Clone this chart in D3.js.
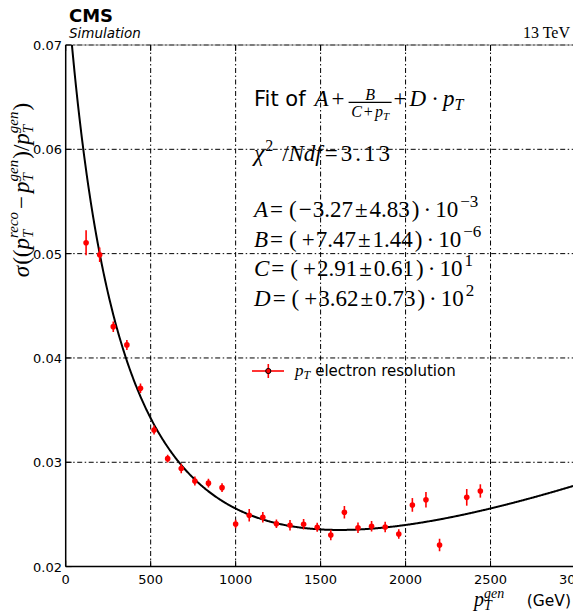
<!DOCTYPE html>
<html><head><meta charset="utf-8">
<script src="https://cdn.jsdelivr.net/npm/d3@7"></script>
<style>body{margin:0;background:#fff} svg{display:block}</style>
</head><body><svg id="c" width="573" height="612"></svg>
<script>
// ---- data ----
const ptGen = [120,200,280,360,440,520,600,680,760,840,920,1000,1080,1160,1240,1320,1400,1480,1560,1640,1720,1800,1880,1960,2040,2120,2200,2360,2440];
const resolution = [0.05105,0.0499,0.0430,0.04125,0.0371,0.0331,0.03035,0.0294,0.0282,0.0280,0.02757,0.02408,0.02492,0.02473,0.02411,0.02396,0.02406,0.02377,0.02303,0.02521,0.02373,0.02386,0.0238,0.02313,0.02591,0.0264,0.02207,0.02664,0.02725];
const resolutionErr = [0.0012,0.0007,0.0005,0.00048,0.00045,0.00043,0.00037,0.00046,0.00043,0.00042,0.00043,0.0004,0.0006,0.0005,0.0004,0.0005,0.0005,0.00043,0.0005,0.0006,0.0005,0.0005,0.0005,0.00045,0.00066,0.00074,0.0006,0.0008,0.00064];
const xTicks = [0,500,1000,1500,2000,2500,3000];
const yTicks = [0.02,0.03,0.04,0.05,0.06,0.07];
const yTickLabels = ["0.02","0.03","0.04","0.05","0.06","0.07"];
const paramNames = ["A","B","C","D"];
const paramMantissa = [-3.27, 7.47, 2.91, 3.62];
const paramErrMantissa = [4.83, 1.44, 0.61, 0.73];
const paramExponent = [-3, -6, 1, 2];
const chi2ndf = "3.13";

const P = paramMantissa.map((m,i)=>m*Math.pow(10,paramExponent[i]));
const fitFn = x => P[0] + P[2]/(P[3]+x) + P[1]*x;

// ---- layout ----
const svg = d3.select("#c");
const L = 65.7, R = 575.5, T = 45, B = 566.6;
const x = d3.scaleLinear().domain([0,3000]).range([L,R]);
const y = d3.scaleLinear().domain([0.02,0.07]).range([B,T]);
const SERIF = "'Liberation Serif', 'DejaVu Serif', serif";
const SANS = "'DejaVu Sans', sans-serif";
const FS = 23;

svg.append("clipPath").attr("id","clip").append("rect")
  .attr("x",L).attr("y",T).attr("width",R-L).attr("height",B-T);

// math layout helper
function mathLine(g, x0, y0, runs) {
  let cx = x0;
  runs.forEach(r => {
    if (r.gap) cx += r.gap;
    if (r.stack) {
      const s = r.s || 14;
      const a = g.append("text").attr("x",cx).attr("y",y0+r.sdy).attr("font-family",SERIF)
        .attr("font-style","italic").attr("font-size",s).text(r.sub);
      const b = g.append("text").attr("x",cx+(r.supdx||0)).attr("y",y0+r.pdy).attr("font-family",SERIF)
        .attr("font-style","italic").attr("font-size",s).text(r.sup);
      cx += Math.max(a.node().getComputedTextLength(), b.node().getComputedTextLength()+(r.supdx||0));
      return;
    }
    if (r.t === undefined) return;
    const el = g.append("text").attr("x",cx).attr("y",y0+(r.dy||0))
      .attr("font-family", r.sans ? SANS : SERIF)
      .attr("font-style", r.it ? "italic" : "normal")
      .attr("font-size", r.s || FS).text(r.t);
    if (r.ls) el.attr("letter-spacing", r.ls);
    cx += el.node().getComputedTextLength();
  });
  return cx;
}

// ---- texts inside plot (below grid) ----
const txt = svg.append("g");
// title formula
let cx = mathLine(txt, 254, 106, [{t:"Fit of", sans:true, s:21}]);
cx = mathLine(txt, cx+9, 106, [{t:"A",it:true},{t:"+",gap:3}]);
{
  const fx = cx + 4, fw = 43;
  txt.append("line").attr("x1",fx).attr("x2",fx+fw).attr("y1",102.3).attr("y2",102.3).attr("stroke","#000").attr("stroke-width",1.2);
  txt.append("text").attr("x",fx+fw/2).attr("y",99.5).attr("text-anchor","middle")
    .attr("font-family",SERIF).attr("font-style","italic").attr("font-size",16).text("B");
  const dg = txt.append("g");
  const w = mathLine(dg, 0, 116.5, [{t:"C",it:true,s:16},{t:"+",s:16,gap:2},{t:"p",it:true,s:16,gap:2},{t:"T",it:true,s:11,dy:3}]);
  dg.attr("transform",`translate(${fx+fw/2-w/2},0)`);
  cx = fx + fw + 2;
}
mathLine(txt, cx, 106, [{t:"+"},{t:"D",it:true,gap:3},{t:"·",gap:5},{t:"p",it:true,gap:4},{t:"T",it:true,s:16,dy:4}]);

// chi2
mathLine(txt, 254, 160.5, [{t:"χ",it:true},{t:"2",s:16,dy:-10,gap:1},{t:"/",gap:9},{t:"N",it:true,gap:0},{t:"d",it:true},{t:"f",it:true},{t:"=",gap:3},{t:chi2ndf,gap:3,ls:3}]);

// parameters
const paramBase = [217, 246.5, 276, 305.5];
paramNames.forEach((n,i)=>{
  const m = paramMantissa[i];
  const sign = m < 0 ? "−" : "+";
  const runs = [{t:n,it:true},{t:"=",gap:2},{t:"(",gap:6}];
  if (m < 0) runs.push({t:sign,gap:2}); else runs.push({t:sign,gap:5});
  runs.push({t:Math.abs(m).toFixed(2),gap:1},{t:"±",gap:2},{t:paramErrMantissa[i].toFixed(2),gap:2},{t:")",gap:2},{t:"·",gap:4},{t:"10",gap:4});
  const e = paramExponent[i];
  runs.push({t:(e<0?"−":"")+Math.abs(e), s:17, dy:-10, gap:2});
  mathLine(txt, 254, paramBase[i], runs);
});

// legend
const lg = svg.append("g");
lg.append("line").attr("x1",252).attr("x2",284).attr("y1",371).attr("y2",371).attr("stroke","#ff0000").attr("stroke-width",1.6);
lg.append("line").attr("x1",268.3).attr("x2",268.3).attr("y1",364).attr("y2",378).attr("stroke","#ff0000").attr("stroke-width",1.6);
lg.append("circle").attr("cx",268.3).attr("cy",371).attr("r",2.6).attr("fill","#ff0000").attr("stroke","#000").attr("stroke-width",1);
cx = mathLine(lg, 295, 376, [{t:"p",it:true,s:17},{t:"T",it:true,s:12,dy:3}]);
lg.append("text").attr("x",cx+5).attr("y",376).attr("font-family",SANS).attr("font-size",15).text("electron resolution");

// ---- grid ----
const grid = svg.append("g").attr("stroke","#000").attr("stroke-width",1).attr("stroke-dasharray","5,2.5,1.5,2.5").attr("fill","none");
xTicks.filter(v=>v>0).forEach(v=>{
  grid.append("line").attr("x1",x(v)).attr("x2",x(v)).attr("y1",T).attr("y2",B);
});
yTicks.filter(v=>v>0.02).forEach(v=>{
  grid.append("line").attr("x1",L).attr("x2",R).attr("y1",y(v)).attr("y2",y(v));
});

// ---- spines & ticks ----
svg.append("line").attr("x1",L).attr("x2",R).attr("y1",T).attr("y2",T).attr("stroke","#777").attr("stroke-width",0.8);
svg.append("line").attr("x1",L).attr("x2",L).attr("y1",T).attr("y2",B).attr("stroke","#000").attr("stroke-width",1.5);
svg.append("line").attr("x1",L).attr("x2",R).attr("y1",B).attr("y2",B).attr("stroke","#000").attr("stroke-width",1.5);
const tk = svg.append("g").attr("stroke","#000").attr("stroke-width",1);
xTicks.forEach(v=>{
  tk.append("line").attr("x1",x(v)).attr("x2",x(v)).attr("y1",B).attr("y2",B-6);
  tk.append("line").attr("x1",x(v)).attr("x2",x(v)).attr("y1",T).attr("y2",T+6);
});
yTicks.forEach(v=>{
  tk.append("line").attr("x1",L).attr("x2",L+6).attr("y1",y(v)).attr("y2",y(v));
});

// tick labels
xTicks.forEach(v=>{
  svg.append("text").attr("x",x(v)).attr("y",584).attr("text-anchor","middle")
    .attr("font-family",SANS).attr("font-size",13).text(v);
});
yTicks.forEach((v,i)=>{
  svg.append("text").attr("x",62).attr("y",y(v)+5).attr("text-anchor","end")
    .attr("font-family",SANS).attr("font-size",13).text(yTickLabels[i]);
});

// ---- fit curve ----
const xs = d3.range(20, 3001, 4);
svg.append("path").attr("clip-path","url(#clip)")
  .attr("d", d3.line().x(d=>x(d)).y(d=>y(fitFn(d)))(xs))
  .attr("fill","none").attr("stroke","#000").attr("stroke-width",2);

// ---- data points ----
const pts = svg.append("g").attr("clip-path","url(#clip)");
ptGen.forEach((v,i)=>{
  pts.append("line").attr("x1",x(v)).attr("x2",x(v))
    .attr("y1",y(resolution[i]-resolutionErr[i])).attr("y2",y(resolution[i]+resolutionErr[i]))
    .attr("stroke","#ff0000").attr("stroke-width",1.6);
  pts.append("circle").attr("cx",x(v)).attr("cy",y(resolution[i])).attr("r",2.8).attr("fill","#ff0000");
});

// ---- header ----
svg.append("text").attr("x",69).attr("y",22).attr("font-family",SANS).attr("font-weight","bold").attr("font-size",18).text("CMS");
svg.append("text").attr("x",69).attr("y",38).attr("font-family",SANS).attr("font-style","italic").attr("font-size",13.5).text("Simulation");
svg.append("text").attr("x",570).attr("y",38).attr("text-anchor","end").attr("font-family",SERIF).attr("font-size",16).text("13 TeV");

// ---- axis labels ----
const xl = svg.append("g");
mathLine(xl, 474, 606, [{t:"p",it:true,s:20},{stack:true,sub:"T",sup:"gen",s:14,sdy:4,pdy:-8}]);
xl.append("text").attr("x",571).attr("y",606).attr("text-anchor","end").attr("font-family",SANS).attr("font-size",15.5).text("(GeV)");

const yl = svg.append("g");
const ylInner = yl.append("g");
const YS = 23, YSS = 15;
const yw = mathLine(ylInner, 0, 0, [
  {t:"σ",it:true,s:YS},{t:"((",s:YS,gap:1},{t:"p",it:true,s:YS},{stack:true,sub:"T",sup:"reco",s:YSS,sdy:4,pdy:-11},
  {t:"−",s:YS,gap:3},{t:"p",it:true,s:YS,gap:3},{stack:true,sub:"T",sup:"gen",s:YSS,sdy:4,pdy:-11},
  {t:")/",s:YS,gap:1},{t:"p",it:true,s:YS},{stack:true,sub:"T",sup:"gen",s:YSS,sdy:4,pdy:-11},{t:")",s:YS,gap:1}
]);
ylInner.attr("transform",`translate(${-yw/2},0)`);
yl.attr("transform","translate(29,190) rotate(-90)");
</script></body></html>
